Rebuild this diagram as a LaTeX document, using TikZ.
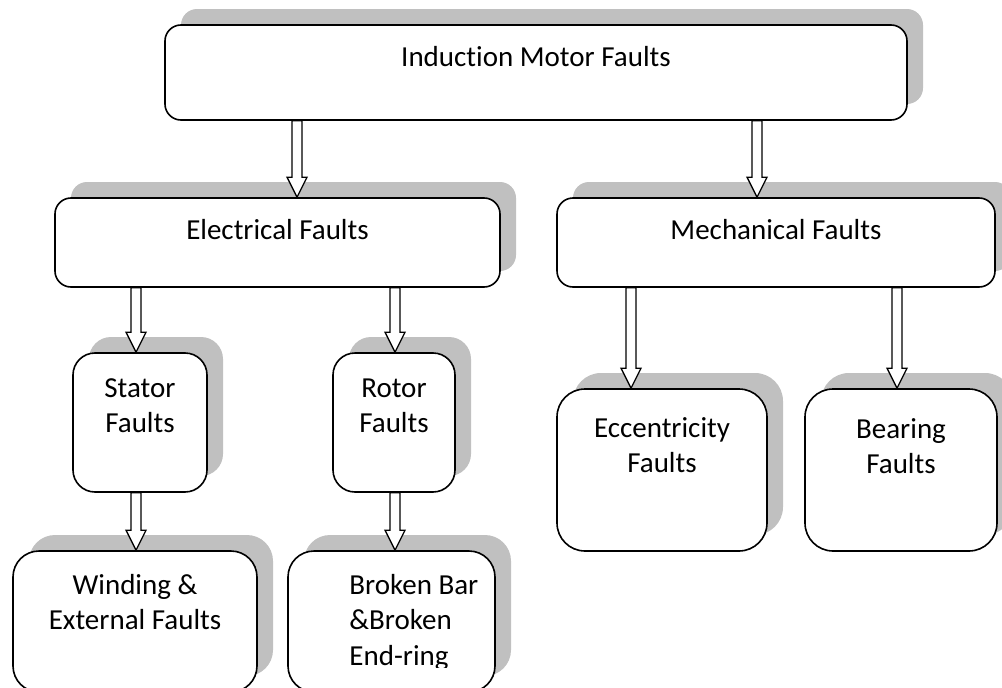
\documentclass[tikz,border=0pt]{standalone}
\usepackage{fontspec}
\setmainfont{Carlito}[Ligatures=NoCommon, Contextuals=NoAlternate]
\usetikzlibrary{shadows,calc}
\definecolor{shd}{RGB}{192,192,192}
\newcommand{\mystrut}{\rule{0pt}{21pt}}
\newcommand{\blkarrow}[3]{%
  \path (#1 |- #2.south) coordinate (s) (#1 |- #3.north) coordinate (e);
  \draw[blk] ($(s)+(-5,0)$) -- ($(e)+(-5,-20)$) -- ($(e)+(-10,-20)$) -- (e)
    -- ($(e)+(10,-20)$) -- ($(e)+(5,-20)$) -- ($(s)+(5,0)$) -- cycle;}
\tikzset{
  box/.style={draw=black, line width=1.6pt, fill=white, rounded corners=#1,
    general shadow={fill=shd, shadow xshift=16pt, shadow yshift=16pt}, inner sep=0pt},
  box/.default=16pt,
  txt/.style={font=\fontsize{29}{35.5}\selectfont, align=center, inner sep=0pt, anchor=north},
  blk/.style={draw=black, line width=1.3pt, fill=white, line join=miter},
}
\begin{document}
\begin{tikzpicture}[x=1pt, y=-1pt]
\path[use as bounding box] (0,0) rectangle (1002,688);
\clip (0,0) rectangle (1002,688);
% boxes
\node[box=16pt, minimum width=742pt, minimum height=95pt] (top) at (536,72.5) {};
\node[box=16pt, minimum width=445pt, minimum height=89pt] (elec) at (277.5,242.5) {};
\node[box=16pt, minimum width=438pt, minimum height=89pt] (mech) at (776,242.5) {};
\node[box=22pt, minimum width=134pt, minimum height=139pt] (stator) at (140,422.5) {};
\node[box=22pt, minimum width=122pt, minimum height=139pt] (rotor) at (394,422.5) {};
\node[box=26pt, minimum width=244pt, minimum height=141pt] (wind) at (135,621.5) {};
\node[box=26pt, minimum width=207pt, minimum height=141pt] (broken) at (391.5,621.5) {};
\node[box=28pt, minimum width=210pt, minimum height=162pt] (ecc) at (662,470) {};
\node[box=28pt, minimum width=192pt, minimum height=162pt] (bear) at (901,470) {};
% texts
\node[txt] (topT) at ($(top.north)+(0,21)$) {\mystrut Induc\kern0pt tion Motor Faults};
\node[txt] (elecT) at ($(elec.north)+(0,21)$) {\mystrut Electrical Faults};
\node[txt] (mechT) at ($(mech.north)+(0,21)$) {\mystrut Mechanical Faults};
\node[txt] (statorT) at ($(stator.north)+(0,24)$) {\mystrut Stator\\Faults};
\node[txt] (rotorT) at ($(rotor.north)+(0,24)$) {\mystrut Rotor\\Faults};
\node[txt] (windT) at ($(wind.north)+(0,23)$) {\mystrut Winding \&\\External Faults};
\begin{scope}
\clip (broken.north west) rectangle ($(broken.east |- broken.north)+(0,117)$);
\node[txt, align=left, anchor=north west] (brokenT) at ($(broken.north west)+(62,23)$) {\mystrut Broken Bar\\\&Broken\\End-ring};
\end{scope}
\node[txt] (eccT) at ($(ecc.north)+(0,28)$) {\mystrut Eccentricity\\Faults};
\node[txt] (bearT) at ($(bear.north)+(0,29)$) {\mystrut Bearing\\Faults};
% arrow x positions
\coordinate (xa) at (297,0);
\coordinate (xb) at (757,0);
\coordinate (xc) at (136,0);
\coordinate (xd) at (395,0);
\coordinate (xe) at (631,0);
\coordinate (xf) at (897,0);
\blkarrow{xa}{top}{elec}
\blkarrow{xb}{top}{mech}
\blkarrow{xc}{elec}{stator}
\blkarrow{xd}{elec}{rotor}
\blkarrow{xc}{stator}{wind}
\blkarrow{xd}{rotor}{broken}
\blkarrow{xe}{mech}{ecc}
\blkarrow{xf}{mech}{bear}
\end{tikzpicture}
\end{document}
